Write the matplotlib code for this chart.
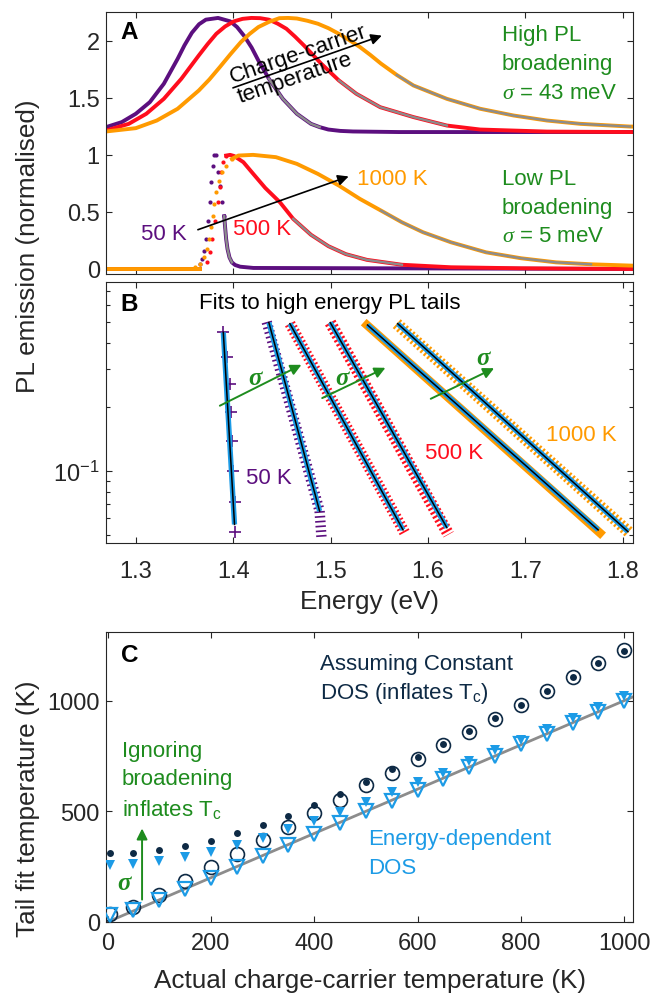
import matplotlib
matplotlib.use('Agg')
import matplotlib.pyplot as plt
import numpy as np
from matplotlib.ticker import NullFormatter, LogLocator

plt.rcParams['font.family'] = ['Liberation Sans', 'DejaVu Sans']
plt.rcParams['mathtext.fontset'] = 'custom'
plt.rcParams['mathtext.rm'] = 'Liberation Sans'
plt.rcParams['mathtext.it'] = 'Liberation Serif:italic'
plt.rcParams['mathtext.bf'] = 'Liberation Sans:bold'

PURPLE = '#5C0F7F'
RED = '#FF0D1D'
ORANGE = '#FF9A00'
GRAY = '#8C8C8C'
GREEN = '#1E8C1E'
BLUE = '#1C9BE6'
NAVY = '#0E2A45'
AXC = '#262626'

# ---------------- data : panel A (normalised PL) ----------------
OFFSET = 1.2   # high-broadening spectra are shifted up

hi50_e = [1.2694, 1.2856, 1.3, 1.3144, 1.3288, 1.343, 1.350, 1.3576, 1.365, 1.372, 1.3845,
          1.397, 1.404, 1.4115, 1.419, 1.4259, 1.4367, 1.451, 1.4655, 1.4799, 1.4889,
          1.4978, 1.510, 1.523, 1.570, 1.65, 1.8107]
hi50_pl = [0.043, 0.087, 0.160, 0.262, 0.423, 0.642, 0.76, 0.870, 0.945, 0.985, 1.0,
           0.97, 0.92, 0.84, 0.74, 0.627, 0.467, 0.291, 0.160, 0.072, 0.043,
           0.022, 0.01, 0.005, 0.0, 0.0, 0.0]
hi500_e = [1.2694, 1.2928, 1.3108, 1.3288, 1.3468, 1.3647, 1.3737, 1.3827, 1.3917, 1.4007,
           1.4097, 1.4187, 1.4277, 1.4367, 1.4457, 1.4547, 1.4637, 1.4727, 1.4817, 1.4906,
           1.5086, 1.5266, 1.5510, 1.5852, 1.6195, 1.6537, 1.7223, 1.8107]
hi500_pl = [0.013, 0.072, 0.160, 0.291, 0.467, 0.671, 0.77, 0.861, 0.925, 0.970,
            0.992, 1.0, 0.998, 0.985, 0.95, 0.905, 0.835, 0.759, 0.678, 0.598,
            0.452, 0.335, 0.218, 0.131, 0.057, 0.022, 0.004, 0.0]
hi1000_e = [1.2694, 1.3, 1.3216, 1.343, 1.3647, 1.3755, 1.3863, 1.397, 1.4079, 1.4169,
            1.4259, 1.4367, 1.4475, 1.4565, 1.4655, 1.4763, 1.4871, 1.4979, 1.5086, 1.5194,
            1.5302, 1.541, 1.5518, 1.5681, 1.5852, 1.6195, 1.6537, 1.6880, 1.7223, 1.7565,
            1.8079, 1.8107]
hi1000_pl = [0.005, 0.034, 0.101, 0.204, 0.364, 0.46, 0.569, 0.68, 0.788, 0.86,
             0.920, 0.965, 0.998, 1.0, 0.995, 0.975, 0.949, 0.91, 0.861, 0.805,
             0.745, 0.675, 0.60, 0.50, 0.408, 0.291, 0.204, 0.145, 0.101, 0.072,
             0.048, 0.048]
hi_fit_win = [(1.436, 1.490), (1.494, 1.6196), (1.568, 1.808)]

lo_base_e = [1.2694, 1.366]
lo_base_pl = [0.0, 0.0]
lo50_dot_e = [1.3663, 1.3680, 1.3697, 1.3724, 1.3737, 1.3758, 1.3775, 1.3792, 1.3806, 1.3826,
              1.3840, 1.3860, 1.3884, 1.3908]
lo50_dot_pl = [0.044, 0.088, 0.161, 0.263, 0.424, 0.585, 0.766, 0.906, 1.0, 1.0,
               0.848, 0.731, 0.585, 0.462]
lo50_e = [1.3908, 1.3916, 1.3928, 1.3942, 1.3962, 1.3987, 1.4020, 1.4072, 1.4208, 1.8107]
lo50_pl = [0.462, 0.38, 0.263, 0.175, 0.102, 0.058, 0.035, 0.02, 0.009, 0.0]
lo500_dot_e = [1.3731, 1.3758, 1.3782, 1.3809, 1.3840, 1.3860, 1.3874, 1.3895, 1.3928]
lo500_dot_pl = [0.059, 0.146, 0.263, 0.424, 0.585, 0.716, 0.848, 0.936, 0.994]
lo500_e = [1.3928, 1.3969, 1.4010, 1.4105, 1.4200, 1.4330, 1.4480, 1.4617, 1.4799, 1.4978,
           1.5158, 1.5374, 1.5734, 1.6237, 1.6957, 1.8107]
lo500_pl = [0.994, 1.0, 0.99, 0.936, 0.84, 0.71, 0.585, 0.439, 0.30, 0.20,
            0.13, 0.08, 0.037, 0.015, 0.006, 0.0]
lo1000_dot_e = [1.3611, 1.3663, 1.3703, 1.3731, 1.3755, 1.3772, 1.3789, 1.3806, 1.3826, 1.385,
                1.3884, 1.3928, 1.3987]
lo1000_dot_pl = [0.015, 0.044, 0.102, 0.175, 0.263, 0.366, 0.468, 0.570, 0.673, 0.775,
                 0.848, 0.906, 0.965]
lo1000_e = [1.3987, 1.4054, 1.4205, 1.4439, 1.4655, 1.4871, 1.5086, 1.5302, 1.5518, 1.5734,
            1.595, 1.6237, 1.6597, 1.6957, 1.7317, 1.7676, 1.8107]
lo1000_pl = [0.965, 0.994, 1.0, 0.98, 0.921, 0.833, 0.731, 0.614, 0.512, 0.409,
             0.322, 0.234, 0.146, 0.094, 0.058, 0.041, 0.029]
lo_fit_win = [(1.3908, 1.3990), (1.4583, 1.577), (1.5374, 1.775)]

# ---------------- data : panel B (tails, log scale) ----------------
b_lo50_e = [1.3899, 1.3935, 1.3964, 1.3978, 1.3989, 1.3996, 1.4014, 1.4018]
b_lo50_pl = [0.447, 0.342, 0.256, 0.190, 0.139, 0.100, 0.072, 0.052]
b_hi50_e = [1.4345, 1.4888, 1.4907]
b_hi50_pl = [0.50, 0.065, 0.049]
b_lo500_e = [1.4583, 1.5763]
b_lo500_pl = [0.491, 0.0513]
b_hi500_e = [1.4997, 1.6213]
b_hi500_pl = [0.497, 0.0504]
b_lo1000_e = [1.5374, 1.7767]
b_lo1000_pl = [0.484, 0.0513]
b_hi1000_e = [1.568, 1.8073]
b_hi1000_pl = [0.491, 0.0513]

fit_e = [[1.3899, 1.4014], [1.4367, 1.4888], [1.4583, 1.5745],
         [1.4997, 1.6195], [1.5380, 1.7749], [1.5690, 1.8055]]
fit_pl = [[0.447, 0.0562], [0.497, 0.0649], [0.491, 0.053],
          [0.497, 0.0543], [0.484, 0.053], [0.491, 0.052]]

# ---------------- data : panel C ----------------
T_actual = [5, 50, 100, 150, 200, 250, 300, 350, 400, 450, 500,
            550, 600, 650, 700, 750, 800, 850, 900, 950, 1000]
T_const_hi = [313, 313, 324, 344, 368, 401, 440, 481, 527, 580, 633,
              693, 744, 802, 862, 922, 982, 1044, 1105, 1168, 1225]
T_const_lo = [38, 68, 124, 185, 247, 307, 369, 429, 493, 553, 618,
              675, 738, 799, 859, 919, 982, 1044, 1105, 1168, 1228]
T_edos_hi = [259, 262, 276, 294, 316, 347, 381, 422, 455, 497, 542,
             588, 633, 675, 726, 776, 824, 874, 922, 972, 1022]
T_edos_lo = [30, 53, 98, 148, 199, 249, 298, 347, 398, 449, 500,
             547, 595, 648, 701, 750, 802, 851, 901, 949, 998]
ref_T = [0, 1020]

# ---------------- figure ----------------
W, H = 651, 995
fig = plt.figure(figsize=(W / 100, H / 100), dpi=100)
FS = 16      # annotation text
TFS = 17     # tick labels
LFS = 18.8   # axis labels


def box(l, t, r, b):
    return [l / W, 1 - b / H, (r - l) / W, (b - t) / H]


def style(ax, xpad):
    ax.tick_params(which='both', direction='in', top=True, right=True, colors=AXC,
                   labelsize=TFS, width=0.8)
    ax.tick_params(which='major', length=4.5)
    ax.tick_params(which='minor', length=2.8)
    ax.tick_params(axis='x', pad=xpad)
    ax.tick_params(axis='y', pad=4.5)
    for s in ax.spines.values():
        s.set_color(AXC)
        s.set_linewidth(0.8)


axA = fig.add_axes(box(106, 13, 633, 275))
axB = fig.add_axes(box(106, 283, 633, 544))
axC = fig.add_axes(box(106, 633, 633, 923))

# ---- A ----
for e, p, c, win in [(hi50_e, hi50_pl, PURPLE, hi_fit_win[0]),
                     (hi500_e, hi500_pl, RED, hi_fit_win[1]),
                     (hi1000_e, hi1000_pl, ORANGE, hi_fit_win[2])]:
    e = np.array(e)
    p = np.array(p) + OFFSET
    axA.plot(e, p, color=c, lw=2.8, solid_joinstyle='round')
    m = (e >= win[0]) & (e <= win[1])
    axA.plot(e[m], p[m], color=GRAY, lw=1.7, solid_joinstyle='round')

for de, dp, e, p, c, win in [(lo50_dot_e, lo50_dot_pl, lo50_e, lo50_pl, PURPLE, lo_fit_win[0]),
                             (lo500_dot_e, lo500_dot_pl, lo500_e, lo500_pl, RED, lo_fit_win[1]),
                             (lo1000_dot_e, lo1000_dot_pl, lo1000_e, lo1000_pl, ORANGE, lo_fit_win[2])]:
    axA.plot(lo_base_e, lo_base_pl, color=c, lw=2.8)
    axA.plot(de, dp, 'o', color=c, ms=3.0, mew=0)
    e = np.array(e)
    p = np.array(p)
    axA.plot(e, p, color=c, lw=2.8, solid_joinstyle='round')
    m = (e >= win[0]) & (e <= win[1])
    axA.plot(e[m], p[m], color=GRAY, lw=1.7, solid_joinstyle='round')

axA.set_xlim(1.2694, 1.8107)
axA.set_ylim(-0.044, 2.252)
axA.set_xticks([1.3, 1.4, 1.5, 1.6, 1.7, 1.8])
axA.set_yticks([0, 0.5, 1, 1.5, 2])
axA.set_yticklabels(['0', '0.5', '1', '1.5', '2'])
style(axA, 12)
axA.tick_params(labelbottom=False)

axA.text(0.028, 0.924, 'A', transform=axA.transAxes, fontsize=17.5, fontweight='bold',
         va='center', ha='left')
axA.annotate('', xy=(1.5554, 2.053), xytext=(1.3971, 1.579),
             arrowprops=dict(arrowstyle='-|>', color='black', lw=1.2, mutation_scale=16))
axA.text(1.4673, 1.886, 'Charge-carrier', rotation=19, ha='center', va='center', fontsize=FS,
         rotation_mode='anchor')
axA.text(1.4637, 1.681, 'temperature', rotation=19, ha='center', va='center', fontsize=FS,
         rotation_mode='anchor')
for txt, v in [('High PL', 2.055), ('broadening', 1.800), (r'$\sigma$ = 43 meV', 1.550)]:
    axA.text(1.676, v, txt, color=GREEN, fontsize=FS, va='center', ha='left')
for txt, v in [('Low PL', 0.789), ('broadening', 0.541), (r'$\sigma$ = 5 meV', 0.292)]:
    axA.text(1.676, v, txt, color=GREEN, fontsize=FS, va='center', ha='left')
axA.annotate('', xy=(1.5213, 0.819), xytext=(1.3611, 0.336),
             arrowprops=dict(arrowstyle='-|>', color='black', lw=1.2, mutation_scale=16))
axA.text(1.5267, 0.789, '1000 K', color=ORANGE, fontsize=FS, va='center', ha='left')
axA.text(1.3521, 0.307, '50 K', color=PURPLE, fontsize=FS, va='center', ha='right')
axA.text(1.400, 0.351, '500 K', color=RED, fontsize=FS, va='center', ha='left')

# ---- B ----
axB.set_yscale('log')
# data bands (dense markers drawn as hatched strokes)
axB.plot(b_lo1000_e, b_lo1000_pl, color=ORANGE, lw=6.2)
axB.plot(b_hi1000_e, b_hi1000_pl, color=ORANGE, lw=8.5, ls=(0, (0.18, 0.2)))
axB.plot(b_lo500_e, b_lo500_pl, color=RED, lw=8, ls=(0, (0.16, 0.22)))
axB.plot(b_hi500_e, b_hi500_pl, color=RED, lw=8.5, ls=(0, (0.18, 0.2)))
axB.plot(b_hi50_e, b_hi50_pl, color=PURPLE, lw=7.5, ls=(0, (0.16, 0.3)))
axB.plot(b_lo50_e, b_lo50_pl, '+', color=PURPLE, ms=9, mew=1.2)
for fe, fp in zip(fit_e, fit_pl):
    axB.plot(fe, fp, color=BLUE, lw=3.8, solid_capstyle='butt')
    axB.plot(fe, fp, color='black', lw=1.1)

axB.set_xlim(1.2694, 1.8107)
axB.set_ylim(0.046, 0.77)
axB.set_xticks([1.3, 1.4, 1.5, 1.6, 1.7, 1.8])
axB.set_xticklabels(['1.3', '1.4', '1.5', '1.6', '1.7', '1.8'])
axB.yaxis.set_minor_locator(LogLocator(base=10, subs=np.arange(2, 10)))
axB.yaxis.set_minor_formatter(NullFormatter())
style(axB, 12)

axB.text(0.028, 0.916, 'B', transform=axB.transAxes, fontsize=17.5, fontweight='bold',
         va='center', ha='left')
axB.text(1.3647, 0.618, 'Fits to high energy PL tails', fontsize=FS, va='center', ha='left')
for (x0, y0, x1, y1), (sx, sy) in zip([(1.3838, 0.1998, 1.4727, 0.3192),
                                       (1.4889, 0.2171, 1.5590, 0.3089),
                                       (1.6004, 0.2154, 1.6706, 0.3076)],
                                      [(1.4223, 0.2744), (1.5116, 0.2744), (1.6568, 0.341)]):
    axB.annotate('', xy=(x1, y1), xytext=(x0, y0),
                 arrowprops=dict(arrowstyle='-|>', color=GREEN, lw=1.4, mutation_scale=16))
    axB.text(sx, sy, 'σ', color=GREEN, fontsize=18, family='Liberation Serif',
             style='italic', fontweight='bold', ha='center', va='center')
axB.text(1.4133, 0.0931, '50 K', color=PURPLE, fontsize=FS, va='center', ha='left')
axB.text(1.5968, 0.122, '500 K', color=RED, fontsize=FS, va='center', ha='left')
axB.text(1.721, 0.1487, '1000 K', color=ORANGE, fontsize=FS, va='center', ha='left')

fig.text(28 / W, 1 - 246 / H, 'PL emission (normalised)', rotation=90, fontsize=LFS,
         ha='center', va='center', color=AXC)
fig.text(370 / W, 1 - 602 / H, 'Energy (eV)', fontsize=LFS, ha='center', va='center', color=AXC)

# ---- C ----
axC.plot(ref_T, ref_T, color=GRAY, lw=2, zorder=1)
axC.plot(T_actual, T_const_lo, 'o', mfc='none', mec=NAVY, ms=10, mew=1.2, zorder=2)
axC.plot(T_actual, T_edos_lo, 'v', mfc='none', mec=BLUE, ms=10.5, mew=1.6, zorder=3)
axC.plot(T_actual, T_const_hi, 'o', color=NAVY, ms=5, mew=0, zorder=4)
axC.plot(T_actual, T_edos_hi, 'v', color=BLUE, ms=6.5, mew=0, zorder=4)

axC.set_xlim(-3, 1017)
axC.set_ylim(0, 1310)
axC.set_xticks([0, 200, 400, 600, 800, 1000])
axC.set_yticks([0, 500, 1000])
style(axC, 7)

axC.text(0.028, 0.924, 'C', transform=axC.transAxes, fontsize=17.5, fontweight='bold',
         va='center', ha='left')
axC.text(410.8, 1166, 'Assuming Constant', color=NAVY, fontsize=FS, va='center', ha='left')
axC.text(410.8, 1038, r'DOS (inflates T$_\mathrm{c}$)', color=NAVY, fontsize=FS, va='center', ha='left')
axC.text(504, 378, 'Energy-dependent', color=BLUE, fontsize=FS, va='center', ha='left')
axC.text(504, 248, 'DOS', color=BLUE, fontsize=FS, va='center', ha='left')
axC.text(27.3, 774, 'Ignoring', color=GREEN, fontsize=FS, va='center', ha='left')
axC.text(27.3, 646, 'broadening', color=GREEN, fontsize=FS, va='center', ha='left')
axC.text(27.3, 513, r'inflates T$_\mathrm{c}$', color=GREEN, fontsize=FS, va='center', ha='left')
axC.annotate('', xy=(66.8, 435), xytext=(66.8, 88.6),
             arrowprops=dict(arrowstyle='-|>', color=GREEN, lw=1.4, mutation_scale=16))
axC.text(32.7, 179, 'σ', color=GREEN, fontsize=18, family='Liberation Serif',
         style='italic', fontweight='bold', ha='center', va='center')

fig.text(28 / W, 1 - 809 / H, 'Tail fit temperature (K)', rotation=90, fontsize=LFS,
         ha='center', va='center', color=AXC)
fig.text(370 / W, 1 - 981 / H, 'Actual charge-carrier temperature (K)', fontsize=LFS,
         ha='center', va='center', color=AXC)

fig.savefig('out.png', dpi=100)
